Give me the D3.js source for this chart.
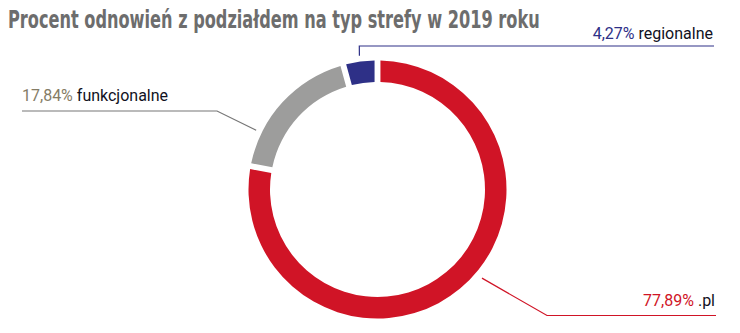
<!DOCTYPE html>
<html>
<head>
<meta charset="utf-8">
<script src="https://cdn.jsdelivr.net/npm/d3@7"></script>
<style>
  body { margin: 0; background: #fff; }
  svg { display: block; }
</style>
</head>
<body>
<svg id="chart" width="740" height="333"></svg>
<script>
// dane
var categories = [".pl", "funkcjonalne", "regionalne"];
var values = [77.89, 17.84, 4.27];
var valueLabels = ["77,89%", "17,84%", "4,27%"];
var colors = ["#D01426", "#9D9D9C", "#2E3087"];
var title = "Procent odnowień z podziałdem na typ strefy w 2019 roku";

var svg = d3.select('#chart');
var cx = 377.5, cy = 189.5, outerR = 129, innerR = 107.5;

// tytul - sciskamy do szerokosci z oryginalu
var titleText = svg.append("text")
        .attr('x', 0)
        .attr('y', 0)
        .style('font-family', '"Liberation Sans Narrow", "DejaVu Sans Condensed", sans-serif')
        .style('font-weight', 'bold')
        .style('font-size', '24px')
        .style('fill', '#6d6d6d')
        .text(title);
var naturalW = titleText.node().getComputedTextLength();
var sx = Math.min(1, 532 / naturalW);
titleText.attr('transform', 'translate(8,28) scale(' + sx + ',1)');

var pie = d3.pie().sort(null).value(function (d) { return d; });
var arcs = pie(values);
var arc = d3.arc().innerRadius(innerR).outerRadius(outerR).padAngle(0.035);

var g = svg.append("g").attr('transform', 'translate(' + cx + ',' + cy + ')');
g.selectAll("path").data(arcs).enter().append("path")
        .attr('d', arc)
        .style('fill', function (d, i) { return colors[i]; });

// uklad etykiet (kat poczatku linii w stopniach, lamanie, tekst)
var labelLayout = [
    {angle: 130.3, r: 137, elbowX: 547, elbowY: 315.5, endX: 716, anchor: 'end', textX: 715, textY: 306},
    {angle: 296, r: 135, elbowX: 217, elbowY: 111, endX: 22, anchor: 'start', textX: 22, textY: 101},
    {angle: 352.3, r: 135, elbowX: 359.3, elbowY: 46, endX: 714, anchor: 'end', textX: 713, textY: 39}
];

function polar(angleDeg, r) {
    var a = angleDeg * Math.PI / 180;
    return [cx + r * Math.sin(a), cy - r * Math.cos(a)];
}

labelLayout.forEach(function (l, i) {
    var p = polar(l.angle, l.r);
    svg.append("polyline")
            .attr('points', [p, [l.elbowX, l.elbowY], [l.endX, l.elbowY]].map(function (q) { return q.join(','); }).join(' '))
            .style('fill', 'none')
            .style('stroke', colors[i] === "#9D9D9C" ? "#777" : colors[i])
            .style('stroke-width', 1.2);

    var t = svg.append("text")
            .attr('x', l.textX)
            .attr('y', l.textY)
            .attr('text-anchor', l.anchor)
            .style('font-family', 'Roboto, sans-serif')
            .style('font-size', '16px');
    t.append("tspan")
            .style('fill', i === 1 ? "#857c66" : colors[i])
            .text(valueLabels[i]);
    t.append("tspan")
            .style('fill', "#111122")
            .text(" " + categories[i]);
});
</script>
</body>
</html>
